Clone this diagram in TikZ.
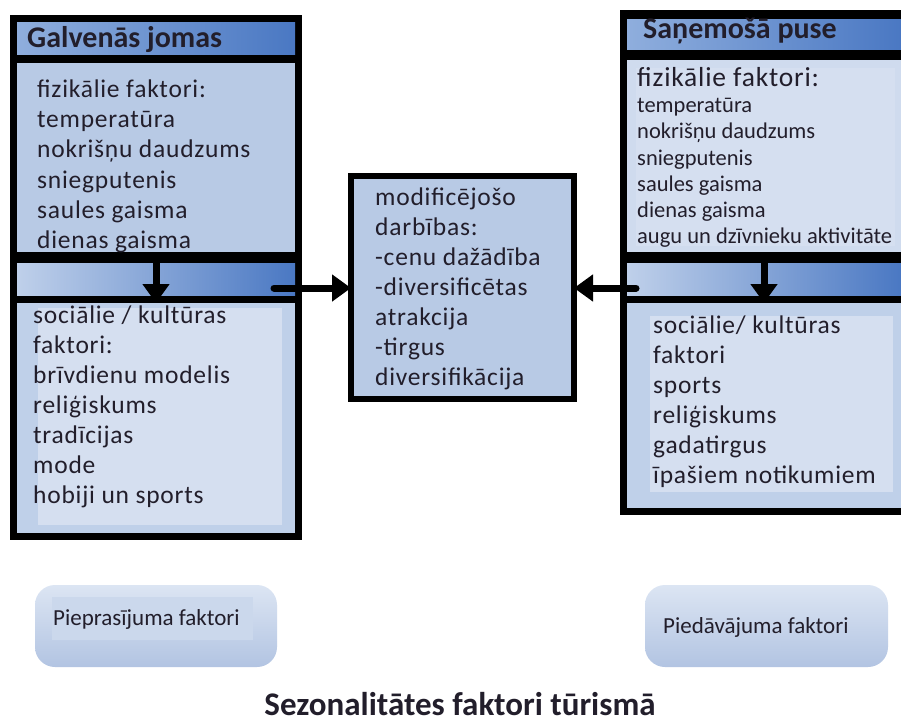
\documentclass[tikz,border=0pt]{standalone}
\usepackage{fontspec}
\setmainfont{Carlito}
\newfontfamily\spacedfont[LetterSpace=3]{Carlito}
\usetikzlibrary{arrows.meta}
\definecolor{barL}{HTML}{BFD0EA}
\definecolor{barR}{HTML}{4A78C3}
\definecolor{titL}{HTML}{8FAEDD}
\definecolor{titR}{HTML}{4A78C3}
\definecolor{paleA}{HTML}{B8CAE5}
\definecolor{paleB}{HTML}{CFDBEE}
\definecolor{paleC}{HTML}{D5DFF0}
\definecolor{paleD}{HTML}{BFD0E9}
\definecolor{boxT}{HTML}{DCE5F3}
\definecolor{boxB}{HTML}{B2C4E2}
\definecolor{txt}{HTML}{221E2B}
\tikzset{
  panel/.style={inner sep=0pt, outer sep=0pt, anchor=north west},
  maintext/.style={anchor=base west, inner sep=0pt, text=txt, font=\spacedfont\fontsize{25.5}{30}\selectfont},
  smalltext/.style={anchor=base west, inner sep=0pt, text=txt, font=\fontsize{22.5}{26}\selectfont},
  headtext/.style={anchor=base west, inner sep=0pt, text=txt, font=\bfseries\fontsize{30}{34}\selectfont},
  labeltext/.style={anchor=base west, inner sep=0pt, text=txt, font=\fontsize{23}{26}\selectfont},
  bigarrow/.style={line width=7pt, -{Triangle[length=19pt,width=26pt]}},
  startround/.style={line cap=round},
}
\begin{document}
\begin{tikzpicture}[x=1pt,y=-1pt]
\useasboundingbox (0,0) rectangle (901,722);
\fill[white] (0,0) rectangle (901,722);

% ---------- left panel ----------
\fill[black] (10,15) rectangle (302,540);
\shade[left color=titL,right color=titR] (17,23) rectangle (295,55);
\node[panel, fill=paleA, minimum width=278pt, minimum height=189pt] (lphys) at (17,63) {};
\shade[left color=barL,right color=barR] (17,263) rectangle (295,295);
\node[panel, fill=paleD, minimum width=278pt, minimum height=230pt] (lsoc) at (17,303) {};
\fill[paleC] (38,308) rectangle (282,525);

\node[headtext] (ltitle) at (27,48) {Galvenās jomas};
\foreach \t [count=\i] in {fizikālie faktori:,temperatūra,nokrišņu daudzums,sniegputenis,saules gaisma,dienas gaisma}
  \node[maintext] (lp\i) at (37,{98+30*(\i-1)}) {\t};
\foreach \t [count=\i] in {sociālie / kultūras,faktori:,brīvdienu modelis,reliģiskums,tradīcijas,mode,hobiji un sports}
  \node[maintext] (ls\i) at (33,{323+30*(\i-1)}) {\t};

% ---------- right panel ----------
\fill[black] (620,10) rectangle (901,515);
\shade[left color=titL,right color=titR] (627,20) rectangle (901,50);
\node[panel, fill=paleB, minimum width=274pt, minimum height=192pt] (rphys) at (627,60) {};
\fill[paleC] (636,68) rectangle (895,246);
\shade[left color=barL,right color=barR] (627,263) rectangle (901,295);
\node[panel, fill=paleD, minimum width=274pt, minimum height=205pt] (rsoc) at (627,303) {};
\fill[paleC] (650,316) rectangle (893,492);

\node[headtext, font=\bfseries\fontsize{30}{34}\selectfont] (rtitle) at (643,39) {Saņemošā puse};
\node[maintext, font=\spacedfont\fontsize{27.5}{30}\selectfont] (rp0) at (637,87) {fizikālie faktori:};
\foreach \t [count=\i] in {temperatūra,nokrišņu daudzums,sniegputenis,saules gaisma,dienas gaisma,augu un dzīvnieku aktivitāte}
  \node[smalltext] (rp\i) at (637,{113+26*(\i-1)}) {\t};
\foreach \t [count=\i] in {sociālie/ kultūras,faktori,sports,reliģiskums,gadatirgus,īpašiem notikumiem}
  \node[maintext] (rs\i) at (653,{333+30*(\i-1)}) {\t};

% ---------- middle box ----------
\node[panel, draw=black, line width=6pt, fill=paleA, minimum width=223pt, minimum height=223pt] (mid) at (351,176) {};
\foreach \t [count=\i] in {modificējošo,darbības:,-cenu dažādība,-diversificētas,atrakcija,-tirgus,diversifikācija}
  \node[maintext] (m\i) at (375,{205+30*(\i-1)}) {\t};

% ---------- arrows ----------
\draw[bigarrow] (lphys.south) -- (lsoc.north);
\draw[bigarrow] (rphys.south) -- (rsoc.north);
\coordinate (lstart) at (274,288);
\coordinate (rstart) at (636,288);
\draw[bigarrow, startround] (lstart) -- (mid.west |- lstart);
\draw[bigarrow, startround] (rstart) -- (mid.east |- rstart);

% ---------- bottom boxes ----------
\node[panel, rounded corners=20pt, top color=boxT, bottom color=boxB, minimum width=242pt, minimum height=82pt] (dem) at (35,585) {};
\fill[boxT!60!boxB] (52,597) rectangle (253,640);
\node[labeltext] (demt) at (53,625) {Pieprasījuma faktori};
\node[panel, rounded corners=20pt, top color=boxT, bottom color=boxB, minimum width=243pt, minimum height=82pt] (sup) at (645,585) {};
\node[labeltext] (supt) at (663,633) {Piedāvājuma faktori};

\node[anchor=base, inner sep=0pt, text=txt, font=\bfseries\fontsize{33}{36}\selectfont] (title) at (460,715) {Sezonalitātes faktori tūrismā};
\end{tikzpicture}
\end{document}
